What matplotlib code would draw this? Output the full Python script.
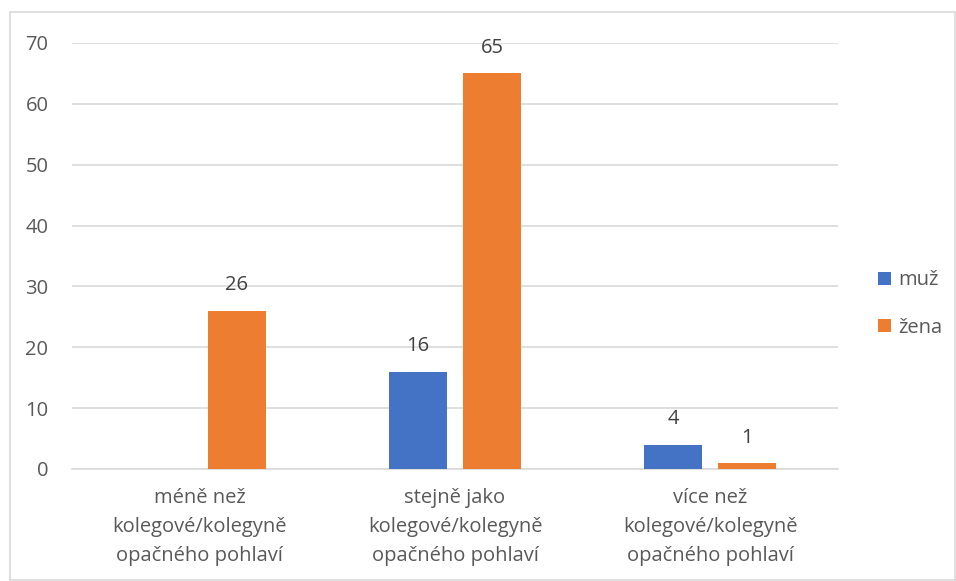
import numpy as np
import matplotlib.pyplot as plt
from matplotlib.patches import Rectangle

categories = ["méně než\nkolegové/kolegyně\nopačného pohlaví",
              "stejně jako\nkolegové/kolegyně\nopačného pohlaví",
              "více než\nkolegové/kolegyně\nopačného pohlaví"]
muz = [0, 16, 4]
zena = [26, 65, 1]
series_names = ["muž", "žena"]

plt.rcParams['font.family'] = ['Open Sans', 'DejaVu Sans']
txt = '#595959'
grid_c = '#d9d9d9'

fig = plt.figure(figsize=(9.56, 5.81), dpi=100)
fig.patches.append(Rectangle((10 / 956, 1 - 580 / 581), 945 / 956, 568 / 581,
                             transform=fig.transFigure, fill=False,
                             edgecolor=grid_c, lw=1.2))
ax = fig.add_axes([72 / 956, 1 - 469 / 581, 766 / 956, 426 / 581])

x = np.arange(len(categories))
w = 0.227
off = 0.145
b1 = ax.bar(x - off, muz, w, color='#4472C4', label=series_names[0], zorder=3)
b2 = ax.bar(x + off, zena, w, color='#ED7D31', label=series_names[1], zorder=3)

for bars, vals in ((b1, muz), (b2, zena)):
    for r, v in zip(bars, vals):
        if v == 0:
            continue
        ax.annotate(str(v), (r.get_x() + r.get_width() / 2, v),
                    xytext=(0, 11), textcoords='offset points', ha='center',
                    va='bottom', fontsize=14.5, color='#404040')

ax.set_xlim(-0.5, 2.5)
ax.set_ylim(0, 70)
ax.set_yticks(range(0, 71, 10))
ax.yaxis.grid(True, color=grid_c, lw=1.2, zorder=0)
ax.set_xticks(x)
ax.set_xticklabels(categories, fontsize=14.5, color=txt, linespacing=1.6)
ax.tick_params(axis='y', length=0, pad=17, labelsize=14.5, labelcolor=txt)
ax.tick_params(axis='x', length=0, pad=14)
for s in ('top', 'right', 'left'):
    ax.spines[s].set_visible(False)
ax.spines['bottom'].set_color(grid_c)
ax.spines['bottom'].set_linewidth(1.2)

ax.legend(loc='center left', bbox_to_anchor=(860 / 956, 1 - 304 / 581),
          bbox_transform=fig.transFigure, frameon=False, fontsize=14.5,
          labelcolor=txt, handlelength=0.65, handleheight=0.65,
          handletextpad=0.35, labelspacing=1.35)

fig.savefig('out.png', dpi=100)
